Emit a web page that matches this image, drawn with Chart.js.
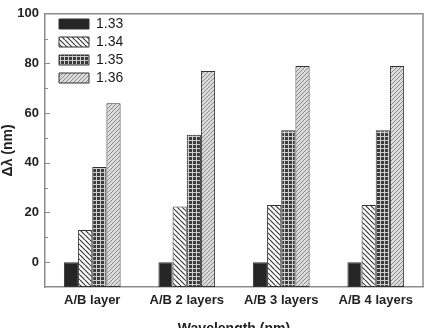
<!DOCTYPE html>
<html>
<head>
<meta charset="utf-8">
<script src="https://cdn.jsdelivr.net/npm/chart.js@4/dist/chart.umd.min.js"></script>
<style>
html,body{margin:0;padding:0;background:#fff;}
#wrap{width:428px;height:328px;}
</style>
</head>
<body>
<div id="wrap"><canvas id="c" width="428" height="328"></canvas></div>
<script>
const categories = ['A/B layer', 'A/B 2 layers', 'A/B 3 layers', 'A/B 4 layers'];
const seriesNames = ['1.33', '1.34', '1.35', '1.36'];
const s133 = [0, 0, 0, 0];
const s134 = [13, 22.4, 23, 23];
const s135 = [38.3, 51.3, 53.1, 53.1];
const s136 = [64, 77, 79, 79];
const yMin = -10, yMax = 100, yStep = 10;
const xTitle = 'Wavelength (nm)';
const yTitle = 'Δλ (nm)';

function makePattern(kind) {
  const c = document.createElement('canvas');
  const ctx = c.getContext('2d');
  if (kind === 'solid') {
    c.width = 4; c.height = 4;
    ctx.fillStyle = '#262626'; ctx.fillRect(0, 0, 4, 4);
  } else if (kind === 'back') {
    const n = 5; c.width = n; c.height = n;
    ctx.fillStyle = '#ffffff'; ctx.fillRect(0, 0, n, n);
    ctx.strokeStyle = '#3a3a3a'; ctx.lineWidth = 1.2;
    for (let o = -n; o <= n; o += n) {
      ctx.beginPath(); ctx.moveTo(o, 0); ctx.lineTo(o + n, n); ctx.stroke();
    }
  } else if (kind === 'grid') {
    const n = 4; c.width = n; c.height = n;
    ctx.fillStyle = '#3c3c3c'; ctx.fillRect(0, 0, n, n);
    ctx.fillStyle = '#cfcfcf';
    ctx.fillRect(0, 0, 1, n);
    ctx.fillRect(0, 0, n, 1);
  } else {
    const n = 4; c.width = n; c.height = n;
    ctx.fillStyle = '#dcdcdc'; ctx.fillRect(0, 0, n, n);
    ctx.strokeStyle = '#8a8a8a'; ctx.lineWidth = 1;
    for (let o = -n; o <= n; o += n) {
      ctx.beginPath(); ctx.moveTo(o, n); ctx.lineTo(o + n, 0); ctx.stroke();
    }
  }
  return document.getElementById('c').getContext('2d').createPattern(c, 'repeat');
}

const fills = [makePattern('solid'), makePattern('back'), makePattern('grid'), makePattern('fwd')];
const seriesData = [s133, s134, s135, s136];

const FONT = "'Liberation Sans', Arial, sans-serif";

const framePlugin = {
  id: 'frame',
  afterLayout(chart) {
    if (chart.legend) { chart.legend.left += 10; chart.legend.top += 13; }
  },
  afterDraw(chart) {
    const {ctx, chartArea: a, scales: {y}} = chart;
    ctx.save();
    ctx.strokeStyle = '#8c8c8c';
    ctx.lineWidth = 1.5;
    ctx.beginPath();
    ctx.moveTo(a.left, a.top); ctx.lineTo(a.right, a.top); ctx.lineTo(a.right, a.bottom);
    ctx.stroke();
    ctx.lineWidth = 1;
    y.ticks.forEach(t => {
      if (t.value <= yMin || t.value >= yMax) return;
      const py = Math.round(y.getPixelForValue(t.value)) + 0.5;
      const len = (t.value % 20 === 0) ? 5 : 3;
      ctx.beginPath(); ctx.moveTo(a.left, py); ctx.lineTo(a.left + len, py); ctx.stroke();
    });
    ctx.restore();
  }
};

new Chart(document.getElementById('c'), {
  type: 'bar',
  data: {
    labels: categories,
    datasets: seriesNames.map((name, i) => ({
      label: name,
      data: seriesData[i],
      base: yMin,
      backgroundColor: fills[i],
      borderColor: '#333333',
      borderWidth: 1,
      borderSkipped: false,
      categoryPercentage: 0.6,
      barPercentage: 1.0
    }))
  },
  options: {
    responsive: false,
    animation: false,
    devicePixelRatio: 1,
    layout: { padding: { top: 7, right: 5, left: 0, bottom: 0 } },
    plugins: {
      tooltip: { enabled: false },
      legend: {
        position: 'chartArea',
        align: 'start',
        labels: {
          boxWidth: 30,
          boxHeight: 10,
          padding: 4,
          color: '#1a1a1a',
          font: { family: FONT, size: 14 }
        }
      }
    },
    scales: {
      x: {
        grid: { display: false, drawTicks: false },
        border: { color: '#8c8c8c', width: 1.5 },
        ticks: { color: '#222', padding: 6, maxRotation: 0, font: { family: FONT, size: 13, weight: 'bold' } },
        title: { display: true, text: xTitle, color: '#222', font: { family: FONT, size: 14, weight: 'bold' }, padding: { top: 0, bottom: -10 } },
        afterFit(s) { s.height = 41; }
      },
      y: {
        min: yMin, max: yMax,
        grid: { display: false, drawTicks: false },
        border: { color: '#8c8c8c', width: 1.5 },
        ticks: {
          stepSize: yStep, color: '#222', padding: 6,
          font: { family: FONT, size: 13, weight: 'bold' },
          callback: v => (v >= 0 && v % 20 === 0) ? String(v) : ''
        },
        title: { display: true, text: yTitle, color: '#222', font: { family: FONT, size: 14, weight: 'bold' }, padding: 0 },
        afterFit(s) { s.width = 45; }
      }
    }
  },
  plugins: [framePlugin]
});
</script>
</body>
</html>
